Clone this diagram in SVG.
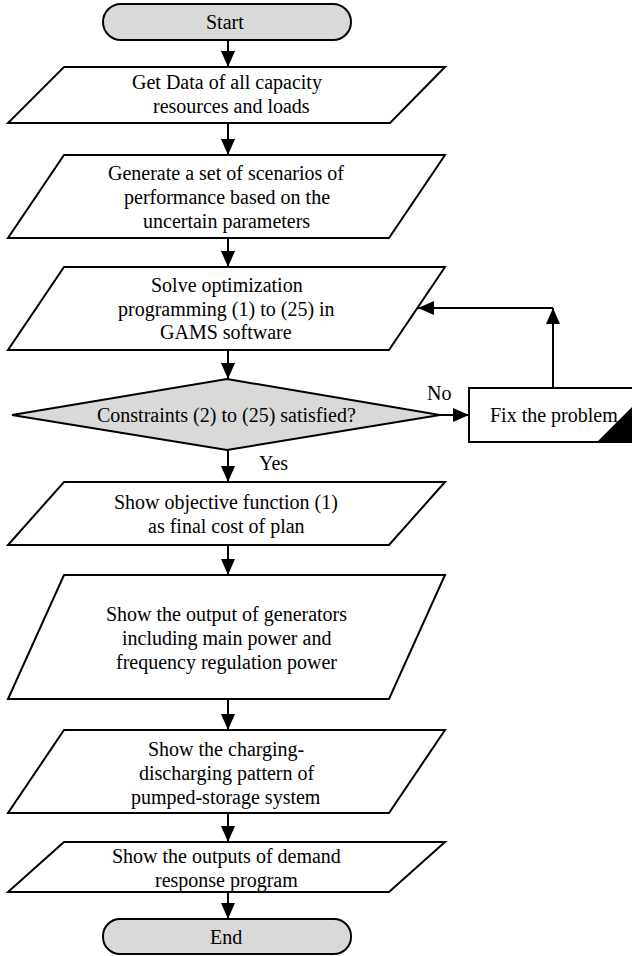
<svg xmlns="http://www.w3.org/2000/svg" width="632" height="956" viewBox="0 0 632 956">
<defs>
<marker id="ah" markerUnits="userSpaceOnUse" markerWidth="16" markerHeight="14" refX="16" refY="7" orient="auto">
<path d="M0,0 L16,7 L0,14 z" fill="#000"/>
</marker>
</defs>
<rect width="632" height="956" fill="#fff"/>
<g id="connectors" fill="none" stroke="#000" stroke-width="2">
<path d="M228,40 V67" marker-end="url(#ah)"/>
<path d="M228,123 V155" marker-end="url(#ah)"/>
<path d="M228,238 V267" marker-end="url(#ah)"/>
<path d="M228,350 V379" marker-end="url(#ah)"/>
<path d="M228,450 V482" marker-end="url(#ah)"/>
<path d="M228,545 V575" marker-end="url(#ah)"/>
<path d="M228,699 V730" marker-end="url(#ah)"/>
<path d="M228,813 V842" marker-end="url(#ah)"/>
<path d="M228,892 V919" marker-end="url(#ah)"/>
<path d="M440,415 H469" marker-end="url(#ah)"/>
<path d="M553,388 V308" marker-end="url(#ah)"/>
<path d="M553,308 H418" marker-end="url(#ah)"/>
</g>
<g id="labels">
<text font-family="Liberation Serif" font-size="20" x="427" y="400">No</text>
<text font-family="Liberation Serif" font-size="20" x="259" y="470">Yes</text>
</g>
<g id="start">
<rect fill="#d9d9d9" stroke="#000" stroke-width="2" x="103" y="4" width="248" height="36" rx="18"/>
<text font-family="Liberation Serif" font-size="20" x="206" y="29">Start</text>
</g>
<g id="getdata">
<polygon fill="#fff" stroke="#000" stroke-width="2" points="64,67 445,67 390,123 8,123"/>
<text font-family="Liberation Serif" font-size="20" x="132" y="89">Get Data of all capacity</text>
<text font-family="Liberation Serif" font-size="20" x="153" y="113">resources and loads</text>
</g>
<g id="scenarios">
<polygon fill="#fff" stroke="#000" stroke-width="2" points="64,155 445,155 389,238 8,238"/>
<text font-family="Liberation Serif" font-size="20" x="108" y="180">Generate a set of scenarios of</text>
<text font-family="Liberation Serif" font-size="20" x="124" y="204">performance based on the</text>
<text font-family="Liberation Serif" font-size="20" x="143" y="228">uncertain parameters</text>
</g>
<g id="solve">
<polygon fill="#fff" stroke="#000" stroke-width="2" points="64,267 445,267 389,350 8,350"/>
<text font-family="Liberation Serif" font-size="20" x="151" y="292">Solve optimization</text>
<text font-family="Liberation Serif" font-size="20" x="118" y="316">programming (1) to (25) in</text>
<text font-family="Liberation Serif" font-size="20" x="160" y="339">GAMS software</text>
</g>
<g id="check">
<polygon fill="#d9d9d9" stroke="#000" stroke-width="2" points="12,415 227,379 440,415 227,450"/>
<text font-family="Liberation Serif" font-size="20" x="97" y="422">Constraints (2) to (25) satisfied?</text>
</g>
<g id="fix">
<rect fill="#fff" stroke="#000" stroke-width="2" x="469" y="388" width="180" height="54"/>
<polygon points="597,442 649,442 649,390" fill="#000"/>
<text font-family="Liberation Serif" font-size="20" x="490" y="422">Fix the problem</text>
</g>
<g id="objective">
<polygon fill="#fff" stroke="#000" stroke-width="2" points="64,482 445,482 389,545 8,545"/>
<text font-family="Liberation Serif" font-size="20" x="114" y="509">Show objective function (1)</text>
<text font-family="Liberation Serif" font-size="20" x="148" y="533">as final cost of plan</text>
</g>
<g id="generators">
<polygon fill="#fff" stroke="#000" stroke-width="2" points="64,575 445,575 389,699 8,699"/>
<text font-family="Liberation Serif" font-size="20" x="106" y="621">Show the output of generators</text>
<text font-family="Liberation Serif" font-size="20" x="122" y="645">including main power and</text>
<text font-family="Liberation Serif" font-size="20" x="116" y="669">frequency regulation power</text>
</g>
<g id="storage">
<polygon fill="#fff" stroke="#000" stroke-width="2" points="64,730 445,730 389,813 8,813"/>
<text font-family="Liberation Serif" font-size="20" x="148" y="756">Show the charging-</text>
<text font-family="Liberation Serif" font-size="20" x="139" y="780">discharging pattern of</text>
<text font-family="Liberation Serif" font-size="20" x="131" y="804">pumped-storage system</text>
</g>
<g id="demand">
<polygon fill="#fff" stroke="#000" stroke-width="2" points="64,842 445,842 389,892 8,892"/>
<text font-family="Liberation Serif" font-size="20" x="112" y="863">Show the outputs of demand</text>
<text font-family="Liberation Serif" font-size="20" x="155" y="887">response program</text>
</g>
<g id="end">
<rect fill="#d9d9d9" stroke="#000" stroke-width="2" x="103" y="919" width="248" height="35" rx="17"/>
<text font-family="Liberation Serif" font-size="20" x="210" y="944">End</text>
</g>
</svg>
